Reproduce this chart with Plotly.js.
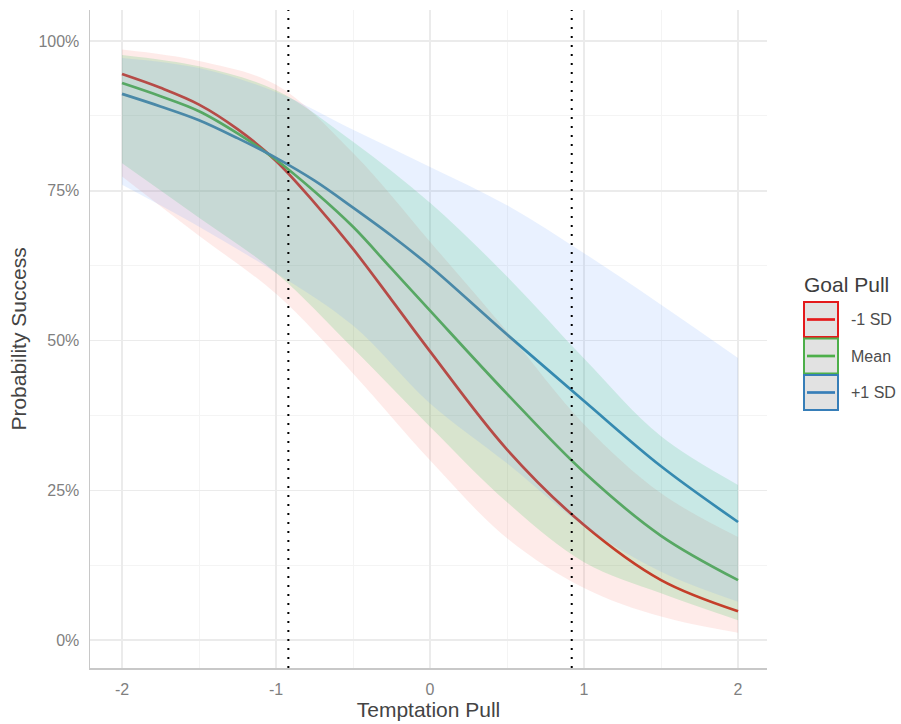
<!DOCTYPE html>
<html>
<head>
<meta charset="utf-8">
<script src="https://cdn.plot.ly/plotly-3.0.1.min.js"></script>
<style>html,body{margin:0;padding:0;background:#fff;}#chart{width:901px;height:724px;}</style>
</head>
<body>
<div id="chart"></div>
<script>
// ---- data ----
// x positions for the fitted lines
var lineX = [-2, -1.75, -1.5, -1.25, -1, -0.75, -0.5, -0.25, 0, 0.5, 1, 1.5, 2];
// x positions for the confidence ribbons
var temptation = [-2, -1.5, -1, -0.5, 0, 0.5, 1, 1.5, 2];

var groupNames = ['-1 SD', 'Mean', '+1 SD'];

var fitLow  = [0.945, 0.922, 0.894, 0.853, 0.800, 0.730, 0.653, 0.568, 0.482, 0.318, 0.192, 0.100, 0.048];
var fitMean = [0.930, 0.908, 0.883, 0.846, 0.802, 0.749, 0.690, 0.620, 0.550, 0.411, 0.280, 0.174, 0.100];
var fitHigh = [0.912, 0.891, 0.868, 0.838, 0.805, 0.767, 0.722, 0.675, 0.624, 0.510, 0.399, 0.290, 0.197];

var loLow   = [0.774, 0.675, 0.578, 0.445, 0.300, 0.170, 0.087, 0.039, 0.012];
var hiLow   = [0.986, 0.967, 0.927, 0.813, 0.665, 0.515, 0.360, 0.245, 0.172];
var loMean  = [0.796, 0.705, 0.613, 0.487, 0.356, 0.230, 0.130, 0.078, 0.033];
var hiMean  = [0.977, 0.958, 0.918, 0.832, 0.730, 0.607, 0.470, 0.340, 0.259];
var loHigh  = [0.760, 0.690, 0.613, 0.525, 0.395, 0.295, 0.190, 0.114, 0.064];
var hiHigh  = [0.972, 0.955, 0.915, 0.852, 0.790, 0.726, 0.646, 0.560, 0.471];

var markerX = [-0.92, 0.92];

var xTicks = [-2, -1, 0, 1, 2];
var yTicks = [0, 0.25, 0.5, 0.75, 1];
var yTickText = ['0%', '25%', '50%', '75%', '100%'];

// ---- styles ----
var lineColors = ['#E41A1C', '#4DAF4A', '#377EB8'];
var fillColors = ['rgba(248,118,109,0.15)', 'rgba(0,186,56,0.15)', 'rgba(97,156,255,0.14)'];
var fits = [fitLow, fitMean, fitHigh];
var los = [loLow, loMean, loHigh];
var his = [hiLow, hiMean, hiHigh];
var FONT = 'Liberation Sans, Arial, sans-serif';

var traces = [];
// lines first (ribbons drawn over them, as in the reference)
for (var i = 0; i < 3; i++) {
  traces.push({
    x: lineX, y: fits[i], type: 'scatter', mode: 'lines',
    line: {color: lineColors[i], width: 2.7, shape: 'spline', smoothing: 1},
    showlegend: false, hoverinfo: 'skip'
  });
}
for (var j = 0; j < 3; j++) {
  traces.push({
    x: temptation, y: los[j], type: 'scatter', mode: 'lines',
    line: {color: 'rgba(0,0,0,0)', width: 0, shape: 'spline'},
    showlegend: false, hoverinfo: 'skip'
  });
  traces.push({
    x: temptation, y: his[j], type: 'scatter', mode: 'lines', fill: 'tonexty',
    fillcolor: fillColors[j],
    line: {color: 'rgba(0,0,0,0)', width: 0, shape: 'spline'},
    showlegend: false, hoverinfo: 'skip'
  });
}

// plot area in pixels
var L = 90, R = 767, T = 10, B = 668;
function px(xp) { return (xp - L) / (R - L); }
function py(yp) { return (B - yp) / (B - T); }

var shapes = [];
markerX.forEach(function (mx) {
  shapes.push({type: 'line', xref: 'x', yref: 'paper', x0: mx, x1: mx, y0: 0, y1: 1,
    line: {color: '#000', width: 2, dash: '2px,7px'}, layer: 'above'});
});

// custom legend (ggplot style keys)
var annotations = [];
annotations.push({xref: 'paper', yref: 'paper', x: px(802), y: py(284), xanchor: 'left', yanchor: 'middle',
  text: 'Goal Pull', showarrow: false, font: {family: FONT, size: 21, color: '#3d3d3d'}});
var keyTop = [302, 338.5, 375];
for (var k = 0; k < 3; k++) {
  var y0 = keyTop[k], y1 = keyTop[k] + 35;
  shapes.push({type: 'rect', xref: 'paper', yref: 'paper', x0: px(804), x1: px(838), y0: py(y1), y1: py(y0),
    fillcolor: '#E2E2E2', line: {color: lineColors[k], width: 2}});
  shapes.push({type: 'line', xref: 'paper', yref: 'paper', x0: px(807), x1: px(835), y0: py((y0 + y1) / 2), y1: py((y0 + y1) / 2),
    line: {color: lineColors[k], width: 2.7}});
  annotations.push({xref: 'paper', yref: 'paper', x: px(849), y: py((y0 + y1) / 2), xanchor: 'left', yanchor: 'middle',
    text: groupNames[k], showarrow: false, font: {family: FONT, size: 16, color: '#4d4d4d'}});
}

var layout = {
  width: 901, height: 724,
  margin: {l: L, r: 901 - R, t: T, b: 724 - B},
  paper_bgcolor: '#fff', plot_bgcolor: '#fff',
  font: {family: FONT},
  showlegend: false,
  xaxis: {
    range: [-2.208, 2.188], tickvals: xTicks, ticktext: xTicks.map(String),
    showgrid: true, gridcolor: '#EBEBEB', gridwidth: 1.5,
    minor: {dtick: 0.5, tick0: 0, showgrid: true, gridcolor: '#F4F4F4', gridwidth: 1},
    zeroline: false, showline: true, linecolor: '#C8C8C8', linewidth: 1.5,
    ticks: 'outside', ticklen: 6, tickcolor: 'rgba(0,0,0,0)',
    tickfont: {size: 16, color: '#7f7f7f'},
    title: {text: 'Temptation Pull', font: {size: 21, color: '#444'}, standoff: 4}
  },
  yaxis: {
    range: [-0.0468, 1.052], tickvals: yTicks, ticktext: yTickText,
    showgrid: true, gridcolor: '#EBEBEB', gridwidth: 1.5,
    minor: {dtick: 0.125, tick0: 0, showgrid: true, gridcolor: '#F4F4F4', gridwidth: 1},
    zeroline: false, showline: true, linecolor: '#C8C8C8', linewidth: 1.5,
    ticks: 'outside', ticklen: 6, tickcolor: 'rgba(0,0,0,0)',
    tickfont: {size: 16, color: '#7f7f7f'},
    title: {text: 'Probability Success', font: {size: 21, color: '#444'}, standoff: 6}
  },
  shapes: shapes,
  annotations: annotations
};

Plotly.newPlot('chart', traces, layout, {displayModeBar: false, staticPlot: true});
</script>
</body>
</html>
